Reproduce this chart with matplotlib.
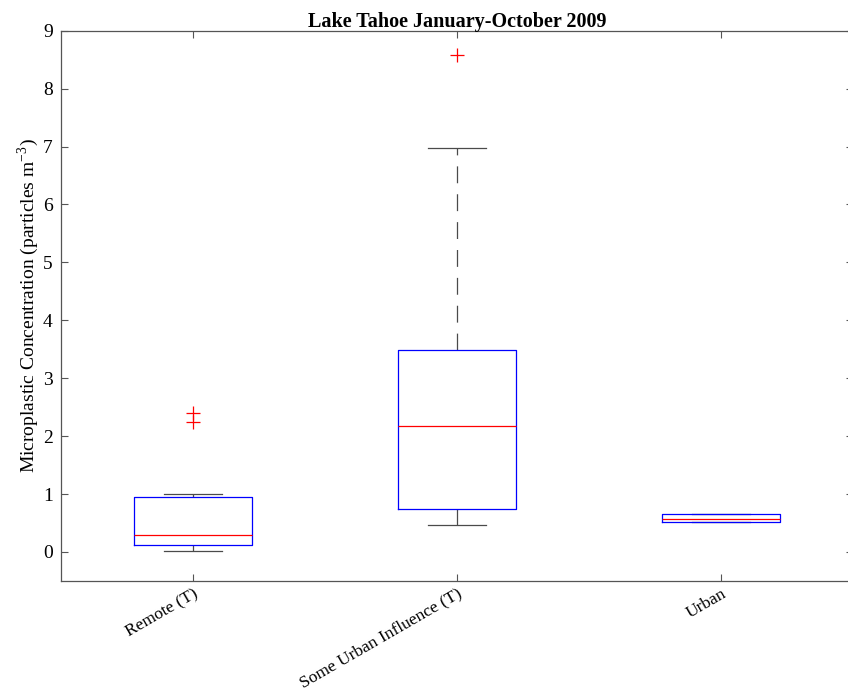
import matplotlib.pyplot as plt

plt.rcParams['font.family'] = ['Liberation Serif', 'DejaVu Serif']
plt.rcParams['mathtext.fontset'] = 'stix'

# box statistics per site group (particles m^-3)
groups = ['Remote (T)', 'Some Urban Influence (T)', 'Urban']
q1 = [0.12, 0.74, 0.51]
med = [0.29, 2.18, 0.57]
q3 = [0.95, 3.48, 0.65]
whislo = [0.02, 0.47, 0.51]
whishi = [1.00, 6.97, 0.65]
fliers = [[2.25, 2.40], [8.58], []]

stats = []
for i in range(len(groups)):
    stats.append(dict(label=groups[i], q1=q1[i], med=med[i], q3=q3[i],
                      whislo=whislo[i], whishi=whishi[i], fliers=fliers[i]))

fig = plt.figure(figsize=(8.48, 6.99), dpi=100)
ax = fig.add_axes([0.072, 0.169, 0.934, 0.787])

ax.bxp(stats, positions=[1, 2, 3], widths=0.45,
       boxprops=dict(color='blue', linewidth=0.9, zorder=4),
       medianprops=dict(color='red', linewidth=0.9, zorder=5),
       whiskerprops=dict(color='#4a4a4a', linewidth=0.9, linestyle=(0, (13.5, 8.8)), zorder=2),
       capprops=dict(color='#4a4a4a', linewidth=0.9, zorder=2),
       flierprops=dict(marker='+', markeredgecolor='red', markersize=10,
                       markeredgewidth=0.9, linestyle='none'),
       capwidths=0.22)

ax.set_xlim(0.5, 3.5)
ax.set_ylim(-0.5, 9)
ax.set_yticks(range(0, 10))
ax.set_xticks([1, 2, 3])
ax.set_xticklabels(groups, rotation=30, ha='right', rotation_mode='anchor', fontsize=12.5)
ax.tick_params(axis='y', labelsize=14, pad=6)
ax.tick_params(direction='in', top=True, right=True, length=5, color='#555555')
for s in ax.spines.values():
    s.set_color('#555555')
    s.set_linewidth(0.9)

ax.set_ylabel('Microplastic Concentration (particles m$^{\\mathregular{-3}}$)', fontsize=14, labelpad=1)
ax.set_title('Lake Tahoe January-October 2009', fontsize=14.5, fontweight='bold', pad=3)

fig.savefig('out.png', dpi=100)
